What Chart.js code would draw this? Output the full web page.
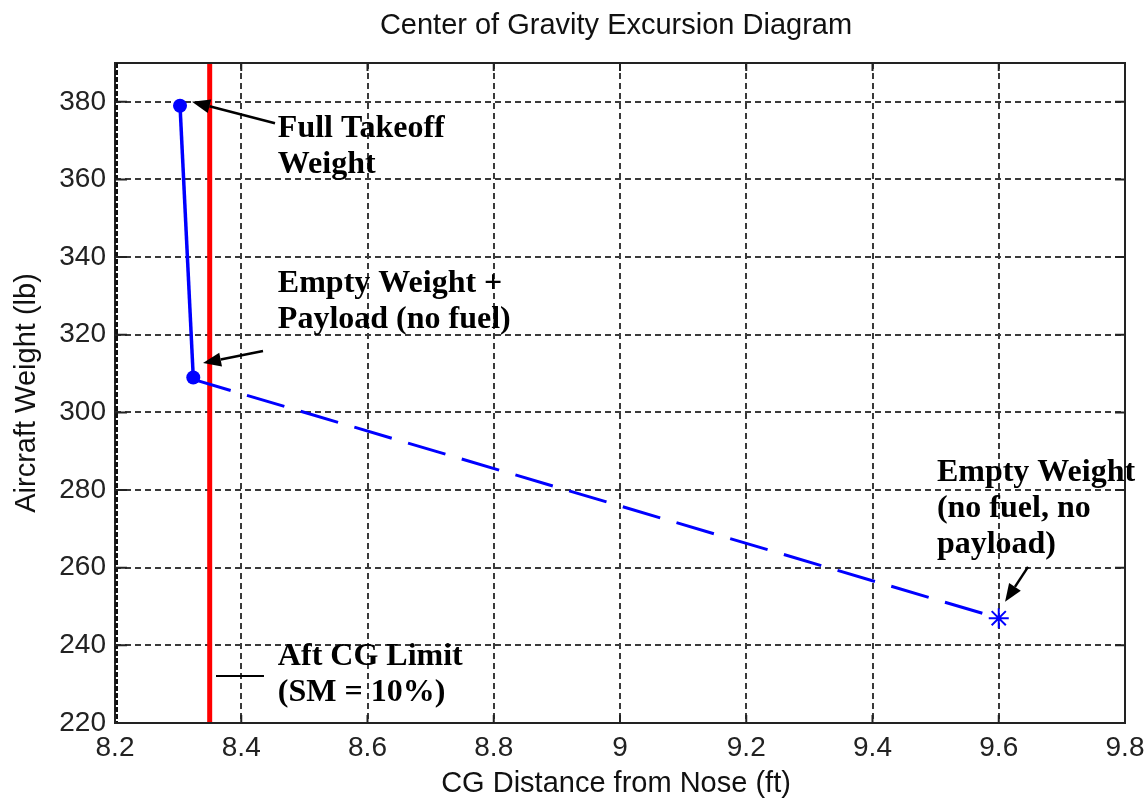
<!DOCTYPE html>
<html>
<head>
<meta charset="utf-8">
<script src="https://cdn.jsdelivr.net/npm/chart.js@4/dist/chart.umd.min.js"></script>
<style>
  html, body { margin: 0; padding: 0; background: #ffffff; }
  canvas { display: block; }
</style>
</head>
<body>
<canvas id="c" width="1144" height="802"></canvas>
<script>
// ---- data ----
const xTicks = [8.2, 8.4, 8.6, 8.8, 9.0, 9.2, 9.4, 9.6, 9.8];
const xTickLabels = ['8.2', '8.4', '8.6', '8.8', '9', '9.2', '9.4', '9.6', '9.8'];
const yTicks = [220, 240, 260, 280, 300, 320, 340, 360, 380];
const yTickLabels = ['220', '240', '260', '280', '300', '320', '340', '360', '380'];

const fuelX = [8.303, 8.324];      // full takeoff -> empty + payload
const fuelY = [379, 309];
const payloadX = [8.324, 9.6];     // empty + payload -> empty
const payloadY = [308.5, 247];
const emptyX = [9.6];
const emptyY = [247];
const aftLimitX = [8.35, 8.35];
const aftLimitY = [220, 390];

const chartTitle = 'Center of Gravity Excursion Diagram';
const xTitle = 'CG Distance from Nose (ft)';
const yTitle = 'Aircraft Weight (lb)';

// annotations (data coordinates)
const notes = [
  { x: 8.458, y: 370.9, lines: ['Full Takeoff', 'Weight'] },
  { x: 8.458, y: 331.0, lines: ['Empty Weight +', 'Payload (no fuel)'] },
  { x: 8.458, y: 234.9, lines: ['Aft CG Limit', '(SM = 10%)'] },
  { x: 9.502, y: 282.3, lines: ['Empty Weight', '(no fuel, no', 'payload)'] }
];
const arrows = [
  { x1: 8.4535, y1: 374.5, x2: 8.322, y2: 380.0 },
  { x1: 8.4345, y1: 315.8, x2: 8.3394, y2: 312.7 },
  { x1: 9.6464, y1: 260.2, x2: 9.610, y2: 251.2 }
];
const legendLine = { x1: 8.360, x2: 8.436, y: 232.1 };

const pts = (xs, ys) => xs.map((x, i) => ({ x: x, y: ys[i] }));

const decor = {
  id: 'decor',
  afterDraw(chart) {
    const ctx = chart.ctx;
    const a = chart.chartArea;
    const sx = chart.scales.x, sy = chart.scales.y;
    ctx.save();
    // axes box
    ctx.strokeStyle = '#222';
    ctx.lineWidth = 2;
    ctx.setLineDash([]);
    ctx.strokeRect(a.left, a.top, a.right - a.left, a.bottom - a.top);
    // thick dotted left axis (minor ticks)
    ctx.lineWidth = 3;
    ctx.strokeStyle = '#111';
    ctx.setLineDash([5, 2]);
    ctx.beginPath();
    ctx.moveTo(a.left + 1.5, a.top);
    ctx.lineTo(a.left + 1.5, a.bottom);
    ctx.stroke();
    ctx.setLineDash([]);
    // major ticks inward
    ctx.lineWidth = 2;
    ctx.strokeStyle = '#222';
    yTicks.forEach(v => {
      const p = sy.getPixelForValue(v);
      ctx.beginPath();
      ctx.moveTo(a.left, p); ctx.lineTo(a.left + 12, p);
      ctx.moveTo(a.right, p); ctx.lineTo(a.right - 10, p);
      ctx.stroke();
    });
    xTicks.forEach(v => {
      const p = sx.getPixelForValue(v);
      ctx.beginPath();
      ctx.moveTo(p, a.bottom); ctx.lineTo(p, a.bottom - 8);
      ctx.moveTo(p, a.top); ctx.lineTo(p, a.top + 8);
      ctx.stroke();
    });
    // titles
    ctx.fillStyle = '#111';
    ctx.font = '29px "Liberation Sans", Arial, sans-serif';
    ctx.textAlign = 'center';
    ctx.textBaseline = 'middle';
    ctx.fillText(chartTitle, 616, 26);
    ctx.fillText(xTitle, 616, 784);
    ctx.save();
    ctx.translate(27, 393);
    ctx.rotate(-Math.PI / 2);
    ctx.fillText(yTitle, 0, 0);
    ctx.restore();
    // annotations
    ctx.fillStyle = '#000';
    ctx.font = 'bold 32px "Liberation Serif", "Times New Roman", serif';
    ctx.textAlign = 'left';
    ctx.textBaseline = 'alphabetic';
    notes.forEach(n => {
      const px = sx.getPixelForValue(n.x), py = sy.getPixelForValue(n.y);
      n.lines.forEach((t, i) => ctx.fillText(t, px, py + i * 36));
    });
    // arrows
    ctx.strokeStyle = '#000';
    ctx.fillStyle = '#000';
    ctx.lineWidth = 2.5;
    arrows.forEach(ar => {
      const x1 = sx.getPixelForValue(ar.x1), y1 = sy.getPixelForValue(ar.y1);
      const x2 = sx.getPixelForValue(ar.x2), y2 = sy.getPixelForValue(ar.y2);
      const ang = Math.atan2(y2 - y1, x2 - x1);
      const L = 18, W = 7;
      const bx = x2 - L * Math.cos(ang), by = y2 - L * Math.sin(ang);
      ctx.beginPath();
      ctx.moveTo(x1, y1); ctx.lineTo(bx, by);
      ctx.stroke();
      ctx.beginPath();
      ctx.moveTo(x2, y2);
      ctx.lineTo(bx + W * Math.sin(ang), by - W * Math.cos(ang));
      ctx.lineTo(bx - W * Math.sin(ang), by + W * Math.cos(ang));
      ctx.closePath();
      ctx.fill();
    });
    // legend-like line next to Aft CG Limit
    ctx.lineWidth = 2;
    ctx.beginPath();
    ctx.moveTo(sx.getPixelForValue(legendLine.x1), sy.getPixelForValue(legendLine.y));
    ctx.lineTo(sx.getPixelForValue(legendLine.x2), sy.getPixelForValue(legendLine.y));
    ctx.stroke();
    ctx.restore();
  }
};

new Chart(document.getElementById('c'), {
  type: 'scatter',
  data: {
    datasets: [
      {
        label: 'Fuel',
        data: pts(fuelX, fuelY),
        showLine: true,
        borderColor: '#0000ff',
        backgroundColor: '#0000ff',
        borderWidth: 3.5,
        pointRadius: 7,
        pointBorderWidth: 0,
        order: 1
      },
      {
        label: 'Payload',
        data: pts(payloadX, payloadY),
        showLine: true,
        borderColor: '#0000ff',
        borderWidth: 3,
        borderDash: [39, 17],
        pointRadius: 0,
        order: 2
      },
      {
        label: 'Empty',
        data: pts(emptyX, emptyY),
        showLine: false,
        pointStyle: 'star',
        pointRadius: 10,
        borderColor: '#0000ff',
        pointBorderWidth: 2,
        order: 0
      },
      {
        label: 'Aft CG Limit',
        data: pts(aftLimitX, aftLimitY),
        showLine: true,
        borderColor: '#ff0000',
        borderWidth: 5,
        pointRadius: 0,
        order: 3
      }
    ]
  },
  options: {
    responsive: false,
    animation: false,
    devicePixelRatio: 1,
    layout: { padding: { left: 0, right: 19, top: 63, bottom: 0 } },
    plugins: {
      legend: { display: false },
      title: { display: false },
      tooltip: { enabled: false }
    },
    scales: {
      x: {
        type: 'linear',
        min: 8.2,
        max: 9.8,
        afterFit(s) { s.height = 79; s.paddingLeft = 0; s.paddingRight = 0; },
        afterBuildTicks(s) { s.ticks = xTicks.map(v => ({ value: v })); },
        grid: { color: '#3a3a3a', lineWidth: 2, drawTicks: false },
        border: { display: false, dash: [6, 4] },
        ticks: {
          padding: 8,
          maxRotation: 0,
          autoSkip: false,
          color: '#222',
          font: { family: '"Liberation Sans", Arial, sans-serif', size: 28 },
          callback: (v, i) => xTickLabels[i]
        }
      },
      y: {
        type: 'linear',
        min: 220,
        max: 390,
        afterFit(s) { s.width = 115; s.paddingTop = 0; s.paddingBottom = 0; },
        afterBuildTicks(s) { s.ticks = yTicks.map(v => ({ value: v })); },
        grid: { color: '#3a3a3a', lineWidth: 2, drawTicks: false },
        border: { display: false, dash: [6, 4] },
        ticks: {
          padding: 9,
          autoSkip: false,
          color: '#222',
          font: { family: '"Liberation Sans", Arial, sans-serif', size: 28 },
          callback: (v, i) => yTickLabels[i]
        }
      }
    }
  },
  plugins: [decor]
});
</script>
</body>
</html>
